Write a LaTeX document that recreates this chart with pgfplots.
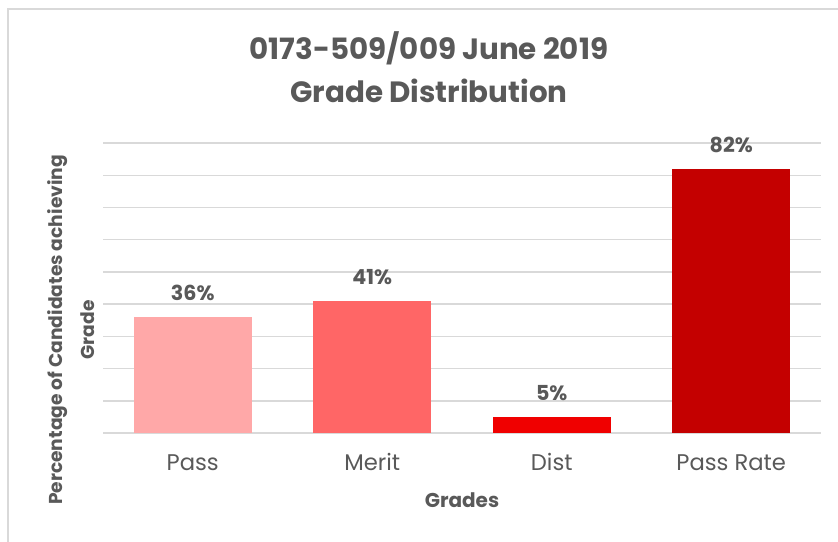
\documentclass[border=0pt]{standalone}
\usepackage{pgfplots}
\pgfplotsset{compat=1.18}
\usepackage{fontspec}
\setmainfont{Poppins}
\definecolor{txt}{HTML}{595959}
\definecolor{gridc}{HTML}{D9D9D9}
\definecolor{cPass}{HTML}{FFA8A8}
\definecolor{cMerit}{HTML}{FF6666}
\definecolor{cDist}{HTML}{F00000}
\definecolor{cRate}{HTML}{C40000}
\begin{document}
\begin{tikzpicture}[x=0.75pt,y=-0.75pt]
\path[use as bounding box] (0,0) rectangle (838,542);
\draw[gridc, line width=2pt] (8,542) -- (8,9) -- (838,9);
\node[anchor=base, text=txt, font=\bfseries\fontsize{22}{26}\selectfont, inner sep=0] at (429,60) {0173-509/009 June 2019};
\node[anchor=base, text=txt, font=\bfseries\fontsize{22}{26}\selectfont, inner sep=0] at (429,103) {Grade Distribution};
\node[rotate=90, align=center, text=txt, font=\bfseries\fontsize{14}{24}\selectfont, inner sep=0] at (71,330) {Percentage of Candidates achieving\\Grade};
\begin{axis}[
  at={(77.25pt,-324.75pt)}, anchor=south west,
  scale only axis, width=538.5pt, height=217.5pt,
  xmin=-0.5, xmax=3.5, ymin=0, ymax=90,
  ytick={0,10,...,90}, yticklabels={},
  ymajorgrids, grid style={draw=gridc, line width=1.1pt},
  axis line style={draw=none},
  major tick length=0pt,
  /pgf/number format/assume math mode=true,
  xtick={0,1,2,3}, xticklabels={Pass,Merit,Dist,Pass Rate},
  xticklabel style={text=txt, font=\fontsize{17}{20}\selectfont, anchor=base, yshift=-28pt},
  ybar, bar width=88.5pt, bar shift=0pt,
  nodes near coords={\pgfmathprintnumber{\pgfplotspointmeta}\%},
  every node near coord/.append style={anchor=base, yshift=12.5pt, text=txt, font=\bfseries\fontsize{15.5}{18}\selectfont},
  xlabel={Grades}, xlabel style={text=txt, font=\bfseries\fontsize{15}{18}\selectfont, anchor=base, at={(axis description cs:0.5,0)}, yshift=-56pt},
  clip=false,
]
\addplot[fill=cPass, draw=none] coordinates {(0,36)};
\addplot[fill=cMerit, draw=none] coordinates {(1,41)};
\addplot[fill=cDist, draw=none] coordinates {(2,5)};
\addplot[fill=cRate, draw=none] coordinates {(3,82)};
\end{axis}
\end{tikzpicture}
\end{document}
